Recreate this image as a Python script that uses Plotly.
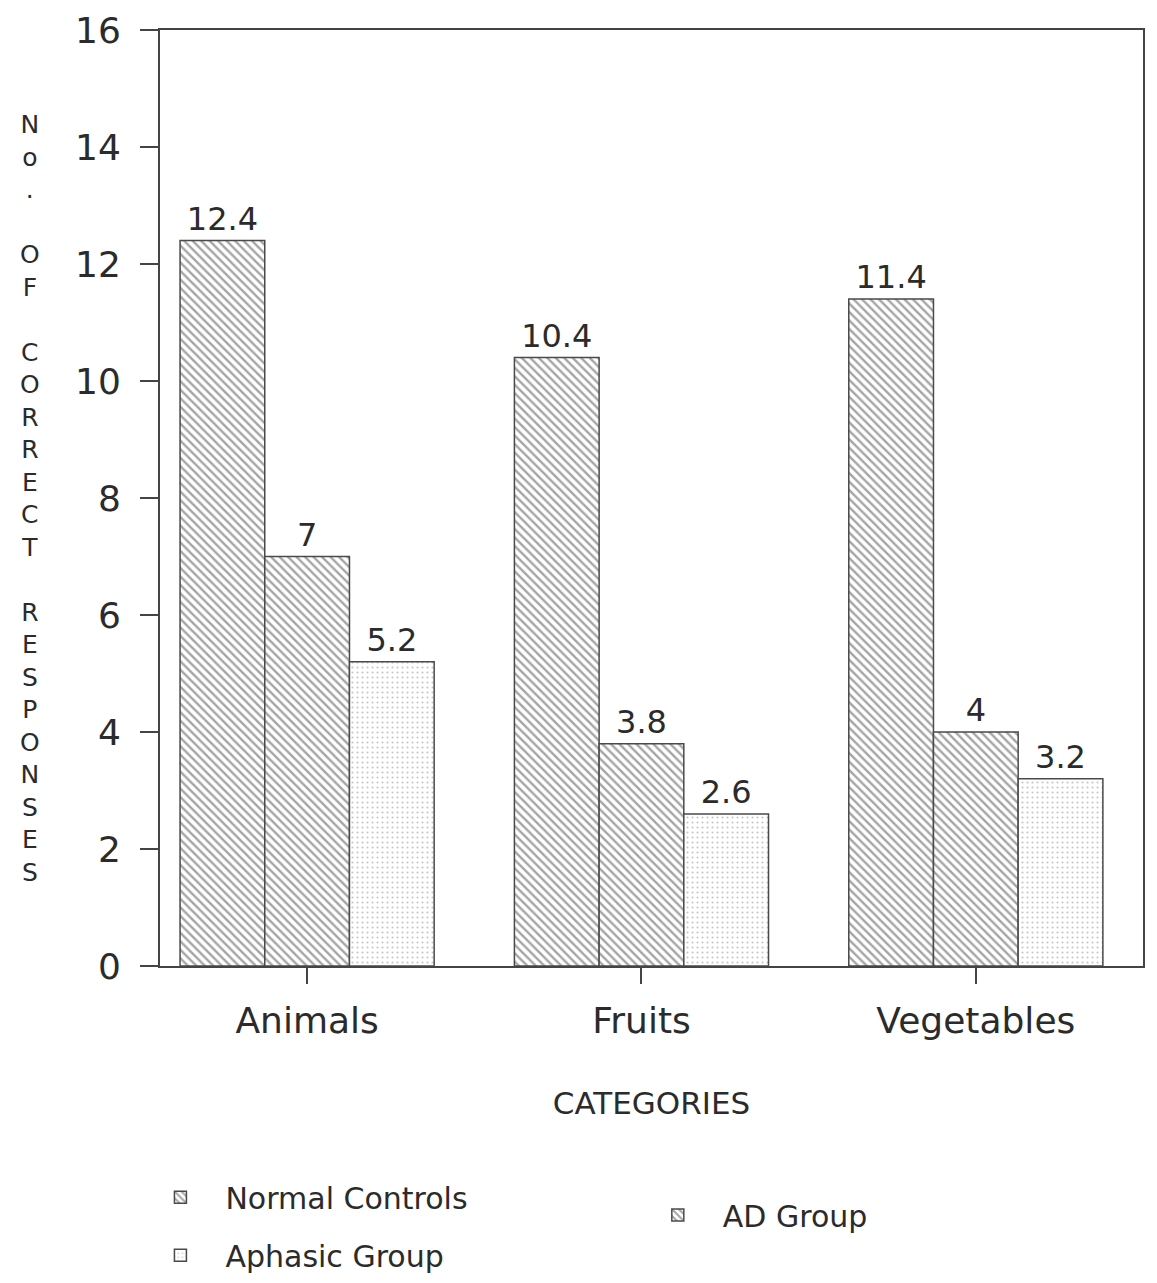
import plotly.graph_objects as go

categories = ["Animals", "Fruits", "Vegetables"]
series_names = ["Normal Controls", "AD Group", "Aphasic Group"]
normal_controls = [12.4, 10.4, 11.4]
ad_group = [7, 3.8, 4]
aphasic_group = [5.2, 2.6, 3.2]
value_labels = [["12.4", "10.4", "11.4"], ["7", "3.8", "4"], ["5.2", "2.6", "3.2"]]
y_ticks = [0, 2, 4, 6, 8, 10, 12, 14, 16]
y_title = "No. OF CORRECT RESPONSES"

FONT = "DejaVu Sans"
TXT = "#2b2b2b"
EDGE = "#4a4a4a"

values = [normal_controls, ad_group, aphasic_group]
patterns = [
    dict(shape="\\", size=6, solidity=0.4, fgcolor="#4a4a4a", bgcolor="white"),
    dict(shape="\\", size=6, solidity=0.4, fgcolor="#4a4a4a", bgcolor="white"),
    dict(shape=".", size=5, solidity=0.14, fgcolor="#8a8a8a", bgcolor="white"),
]
legends = ["legend2", "legend3", "legend4"]

fig = go.Figure()
for name, vals, labels, pat, lg in zip(series_names, values, value_labels, patterns, legends):
    fig.add_trace(go.Bar(
        x=categories, y=vals, name=name,
        text=labels, textposition="outside",
        textfont=dict(family=FONT, size=32, color=TXT),
        marker=dict(color="white", pattern=pat,
                    line=dict(color=EDGE, width=1.5)),
        cliponaxis=False, legend=lg,
    ))

stacked = "<br>".join(ch if ch != " " else "\u00a0" for ch in y_title)

leg_common = dict(xanchor="left", yanchor="middle", xref="paper", yref="paper",
                  font=dict(family=FONT, size=30, color=TXT), itemwidth=80,
                  bgcolor="rgba(0,0,0,0)")

fig.update_layout(
    width=1157, height=1283,
    paper_bgcolor="white", plot_bgcolor="white",
    margin=dict(l=152, r=22, t=22, b=325, autoexpand=False),
    barmode="group", bargap=0.24, bargroupgap=0,
    font=dict(family=FONT, color=TXT),
    xaxis=dict(
        range=[-0.44, 2.5], showline=True, mirror=True, linecolor="#444444", linewidth=2,
        ticks="outside", ticklen=16, tickcolor="#444444", tickwidth=1.5,
        tickfont=dict(family=FONT, size=36, color=TXT), ticklabelstandoff=6,
        title=dict(text="CATEGORIES", font=dict(family=FONT, size=31, color=TXT), standoff=52),
        showgrid=False, zeroline=False,
    ),
    yaxis=dict(
        range=[0, 16], tickvals=y_ticks, showline=True, mirror=True,
        linecolor="#444444", linewidth=2,
        ticks="outside", ticklen=18, tickcolor="#444444", tickwidth=1.5,
        tickfont=dict(family=FONT, size=36, color=TXT), ticklabelstandoff=12,
        showgrid=False, zeroline=False,
    ),
    showlegend=True,
    legend=dict(visible=False),
    legend2=dict(x=-0.025, y=-0.247, **leg_common),
    legend3=dict(x=0.481, y=-0.266, **leg_common),
    legend4=dict(x=-0.025, y=-0.309, **leg_common),
    annotations=[dict(
        text=stacked, xref="paper", yref="paper", x=-0.132, y=0.500,
        xanchor="center", yanchor="middle", showarrow=False, align="center",
        font=dict(family=FONT, size=25, color=TXT),
    )],
)

fig.write_html("out.html")
